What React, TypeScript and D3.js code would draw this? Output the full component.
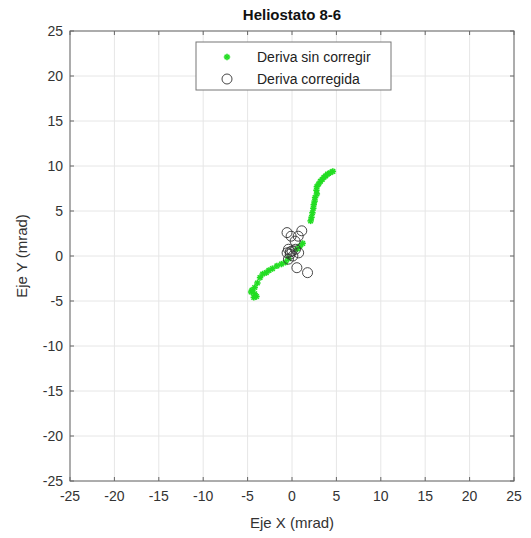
import * as d3 from "d3";

// drift before correction (mrad)
const sinCorregirX = [4.6, 4.3, 4.0, 3.8, 3.6, 3.4, 3.2, 3.0, 2.8, 2.75, 2.8, 2.6, 2.55, 2.45, 2.4, 2.3, 2.2, 2.1,
  1.2, 0.9, 0.6,
  -0.4, -0.75, -1.2, -1.7, -2.2, -2.6, -2.9, -3.3, -3.6, -3.9, -4.2, -4.5, -4.6, -4.2, -4.0, -4.3];
const sinCorregirY = [9.4, 9.25, 9.1, 8.9, 8.75, 8.5, 8.3, 8.0, 7.7, 7.3, 6.9, 6.5, 6.1, 5.7, 5.3, 4.8, 4.3, 3.9,
  1.4, 1.1, 0.8,
  -0.3, -0.7, -0.9, -1.1, -1.4, -1.6, -1.85, -2.0, -2.4, -3.0, -3.5, -3.8, -4.0, -4.2, -4.5, -4.6];

// drift after correction (mrad)
const corregidaX = [-0.56, -0.1, 1.1, 0.7, 0.35, -0.4, 0.0, 0.4, -0.55, -0.2, 0.75, -0.4, 0.55, 1.75, 0.1, -0.2];
const corregidaY = [2.6, 2.2, 2.8, 2.2, 1.65, 0.75, 0.55, 0.75, 0.35, 0.2, 0.35, -0.35, -1.3, -1.85, 0.0, 0.45];

const ticks = [-25, -20, -15, -10, -5, 0, 5, 10, 15, 20, 25];

const W = 531;
const H = 538;
const left = 70, right = 514, top = 31, bottom = 481;

export default function App() {
  const x = d3.scaleLinear().domain([-25, 25]).range([left, right]);
  const y = d3.scaleLinear().domain([-25, 25]).range([bottom, top]);
  const font = "'Liberation Sans', Arial, sans-serif";
  const axisCol = "#666";
  const green = "#22dd22";

  const star = (cx: number, cy: number, k: number) => {
    const r = 3.2;
    const d = r * 0.72;
    return (
      <g key={k} stroke={green} strokeWidth={1.6}>
        <line x1={cx - r} y1={cy} x2={cx + r} y2={cy} />
        <line x1={cx} y1={cy - r} x2={cx} y2={cy + r} />
        <line x1={cx - d} y1={cy - d} x2={cx + d} y2={cy + d} />
        <line x1={cx - d} y1={cy + d} x2={cx + d} y2={cy - d} />
      </g>
    );
  };

  return (
    <svg width={W} height={H} style={{ position: "absolute", left: 0, top: 0, background: "#fff" }} fontFamily={font}>
      <rect x={0} y={0} width={W} height={H} fill="#fff" />
      {/* grid */}
      {ticks.map((t) => (
        <g key={"g" + t} stroke="#e6e6e6" strokeWidth={1}>
          <line x1={x(t)} y1={top} x2={x(t)} y2={bottom} />
          <line x1={left} y1={y(t)} x2={right} y2={y(t)} />
        </g>
      ))}
      {/* data */}
      {sinCorregirX.map((v, i) => star(x(v), y(sinCorregirY[i]), i))}
      {corregidaX.map((v, i) => (
        <circle key={"c" + i} cx={x(v)} cy={y(corregidaY[i])} r={5} fill="none" stroke="#333" strokeWidth={0.9} />
      ))}
      {/* box and ticks */}
      <rect x={left} y={top} width={right - left} height={bottom - top} fill="none" stroke={axisCol} strokeWidth={1} />
      {ticks.map((t) => (
        <g key={"t" + t} stroke={axisCol} strokeWidth={1}>
          <line x1={x(t)} y1={bottom} x2={x(t)} y2={bottom - 4} />
          <line x1={x(t)} y1={top} x2={x(t)} y2={top + 4} />
          <line x1={left} y1={y(t)} x2={left + 4} y2={y(t)} />
          <line x1={right} y1={y(t)} x2={right - 4} y2={y(t)} />
        </g>
      ))}
      {ticks.map((t) => (
        <text key={"xl" + t} x={x(t)} y={bottom + 20} textAnchor="middle" fontSize={14} fill="#333">{t}</text>
      ))}
      {ticks.map((t) => (
        <text key={"yl" + t} x={left - 7} y={y(t) + 5} textAnchor="end" fontSize={14} fill="#333">{t}</text>
      ))}
      <text x={(left + right) / 2} y={528} textAnchor="middle" fontSize={15} fill="#333">Eje X (mrad)</text>
      <text transform={`translate(27,${(top + bottom) / 2}) rotate(-90)`} textAnchor="middle" fontSize={15} fill="#333">Eje Y (mrad)</text>
      <text x={(left + right) / 2} y={20} textAnchor="middle" fontSize={15} fontWeight="bold" fill="#111">Heliostato 8-6</text>
      {/* legend */}
      <rect x={196} y={42} width={195} height={48} fill="#fff" stroke="#777" strokeWidth={1} />
      {star(227, 57, 999)}
      <text x={257} y={62} fontSize={14} fill="#222">Deriva sin corregir</text>
      <circle cx={227} cy={79} r={5} fill="none" stroke="#333" strokeWidth={0.9} />
      <text x={257} y={84} fontSize={14} fill="#222">Deriva corregida</text>
    </svg>
  );
}
